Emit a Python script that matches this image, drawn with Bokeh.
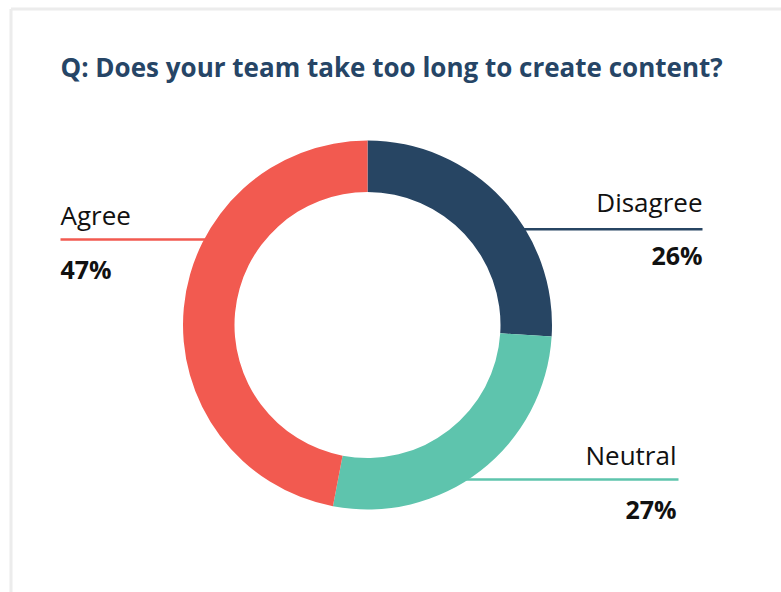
from bokeh.plotting import figure
from bokeh.models import Range1d, ColumnDataSource
from bokeh.core.properties import value
from bokeh.embed import file_html
from bokeh.resources import INLINE
import math

# ---- data ----
title_text = "Q: Does your team take too long to create content?"
categories = ["Disagree", "Neutral", "Agree"]
percents = [26, 27, 47]
colors = ["#274563", "#5EC4AD", "#F25A50"]

W, H = 781, 592
p = figure(width=W, height=H, output_backend="svg", toolbar_location=None,
           x_range=Range1d(0, W), y_range=Range1d(-H, 0),
           min_border=0, outline_line_color=None)
p.axis.visible = False
p.grid.visible = False
p.background_fill_color = "white"
p.border_fill_color = "white"

def Y(v):
    return -v

FONT = "Open Sans"
DY = -9  # baseline correction

# card frame (light gray)
p.segment(x0=[10.5, 10.5], y0=[Y(8.5), Y(8.5)], x1=[10.5, 790], y1=[Y(600), Y(8.5)],
          line_color="#ececec", line_width=3)

# title
p.text(x=[60], y=[Y(75 + DY)], text=[title_text], text_font=value(FONT),
       text_font_style="bold", text_font_size="26px", text_color="#264566",
       text_baseline="alphabetic", text_align="left")

cx, cy = 367, 324.5
r_out, r_in = 184.5, 133

# leader lines + labels (positions per category)
label_pos = {
    "Agree":    dict(line=(60, 230, 239), tx=60, ty=223, px=60, pyv=277, align="left"),
    "Disagree": dict(line=(490, 702, 228.7), tx=702, ty=210, px=702, pyv=263, align="right"),
    "Neutral":  dict(line=(430, 678, 479), tx=676, ty=463, px=676, pyv=517, align="right"),
}
for cat, pct, col in zip(categories, percents, colors):
    lp = label_pos[cat]
    x0, x1, ly = lp["line"]
    p.segment(x0=[x0], y0=[Y(ly)], x1=[x1], y1=[Y(ly)], line_color=col, line_width=2.5)
    p.text(x=[lp["tx"]], y=[Y(lp["ty"] + DY)], text=[cat], text_font=value(FONT),
           text_font_size="26px", text_color="#111111",
           text_baseline="alphabetic", text_align=lp["align"])
    p.text(x=[lp["px"]], y=[Y(lp["pyv"] + DY)], text=[f"{pct}%"], text_font=value(FONT),
           text_font_style="bold", text_font_size="25px", text_color="#111111",
           text_baseline="alphabetic", text_align=lp["align"])

# donut
total = sum(percents)
starts, ends = [], []
cum = 0
for v in percents:
    starts.append(math.pi / 2 - 2 * math.pi * cum / total)
    cum += v
    ends.append(math.pi / 2 - 2 * math.pi * cum / total)
src = ColumnDataSource(dict(start=starts, end=ends, color=colors, cat=categories))
p.annular_wedge(x=cx, y=Y(cy), inner_radius=r_in, outer_radius=r_out,
                inner_radius_units="screen", outer_radius_units="screen",
                start_angle="start", end_angle="end", direction="clock",
                fill_color="color", line_color=None, source=src)

open("out.html", "w").write(file_html(p, INLINE))
